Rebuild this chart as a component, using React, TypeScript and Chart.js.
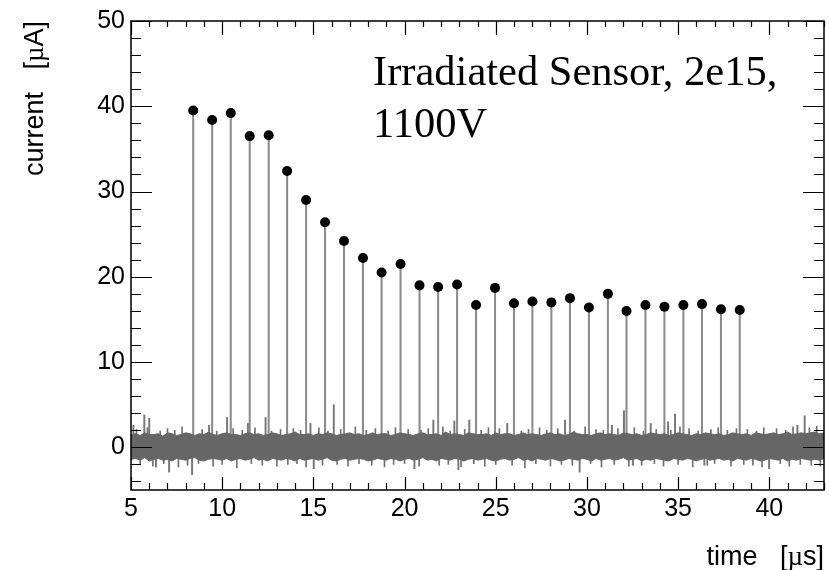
import React, { useEffect, useRef } from "react";
import { Chart, registerables } from "chart.js";
Chart.register(...registerables);

// Pulse stems (time in µs, peak current in µA)
const pulseTimes = [8.41, 9.45, 10.47, 11.51, 12.55, 13.56, 14.6, 15.64, 16.68, 17.72, 18.74, 19.78, 20.82, 21.84, 22.88, 23.92, 24.96, 26.0, 27.01, 28.05, 29.07, 30.11, 31.15, 32.17, 33.21, 34.25, 35.29, 36.31, 37.35, 38.38];
const pulsePeaks = [39.5, 38.4, 39.2, 36.5, 36.6, 32.4, 29.0, 26.4, 24.2, 22.2, 20.5, 21.5, 19.0, 18.8, 19.1, 16.7, 18.7, 16.9, 17.1, 17.0, 17.5, 16.4, 18.0, 16.0, 16.7, 16.5, 16.7, 16.8, 16.2, 16.1];

// Isolated noise spikes standing out of the baseline band
const spikeTimes = [5.13, 5.73, 6.0, 6.37, 7.09, 8.35, 9.28, 10.27, 11.41, 12.38, 14.84, 15.02, 16.12, 20.54, 21.58, 22.73, 22.95, 23.55, 25.63, 28.8, 29.6, 31.37, 32.03, 32.52, 33.5, 34.45, 34.83, 36.44, 39.99, 41.54, 41.94];
const spikeValues = [2.6, 3.8, 3.4, -2.3, -2.9, -3.2, 2.6, 3.5, 2.8, 3.5, 2.8, -2.5, 5.0, -2.5, 3.2, 3.1, -2.6, 3.2, 2.8, 3.2, -2.9, 2.6, 4.3, -2.1, 2.8, 3.0, 3.9, -2.1, -2.5, 2.6, 3.7];

// Small hairs on the edges of the noise band
const hairUpTimes = [5.3, 5.9, 6.6, 7.0, 7.4, 7.8, 8.9, 9.7, 10.6, 11.1, 11.8, 12.7, 13.2, 13.9, 14.3, 15.3, 15.8, 16.5, 17.3, 17.9, 18.4, 19.1, 19.5, 20.2, 20.9, 21.3, 22.1, 22.5, 23.3, 24.2, 24.6, 25.2, 26.4, 26.8, 27.4, 27.8, 28.4, 29.3, 29.9, 30.5, 30.9, 31.7, 32.6, 33.1, 33.8, 34.6, 35.1, 35.6, 36.1, 36.8, 37.2, 37.7, 38.2, 38.8, 39.3, 39.7, 40.4, 40.9, 41.3, 42.2, 42.6];
const hairUpValues = [2.1, 2.3, 1.9, 2.2, 2.0, 2.4, 2.1, 1.9, 2.2, 2.0, 2.3, 1.9, 2.1, 2.2, 2.0, 2.3, 1.9, 2.1, 2.4, 2.0, 2.2, 1.9, 2.3, 2.1, 2.0, 2.2, 2.4, 1.9, 2.1, 2.0, 2.3, 2.2, 1.9, 2.1, 2.3, 2.0, 2.2, 1.9, 2.4, 2.1, 2.0, 2.2, 2.3, 1.9, 2.1, 2.0, 2.4, 2.2, 1.9, 2.1, 2.3, 2.0, 2.2, 2.1, 1.9, 2.3, 2.2, 2.0, 2.4, 2.3, 2.5];
const hairDownTimes = [5.5, 6.2, 6.8, 7.6, 8.1, 8.7, 9.5, 10.0, 10.8, 11.6, 12.2, 13.0, 13.6, 14.1, 14.6, 15.5, 16.3, 16.9, 17.5, 18.2, 18.9, 19.4, 20.0, 20.8, 21.9, 22.4, 23.1, 23.8, 24.4, 25.0, 25.9, 26.6, 27.2, 28.0, 28.6, 29.2, 30.2, 30.8, 31.5, 32.3, 33.0, 33.7, 34.2, 35.0, 35.8, 36.6, 37.0, 37.9, 38.6, 39.1, 39.6, 40.6, 41.1, 41.7, 42.3, 42.8];
const hairDownValues = [-2.0, -2.2, -1.9, -2.3, -2.1, -1.9, -2.2, -2.0, -2.4, -1.9, -2.1, -2.2, -2.0, -1.9, -2.3, -2.1, -2.0, -2.2, -1.9, -2.1, -2.3, -2.0, -1.9, -2.2, -2.1, -2.0, -2.3, -1.9, -2.2, -2.0, -2.1, -2.4, -1.9, -2.2, -2.0, -2.1, -1.9, -2.3, -2.0, -2.2, -2.1, -1.9, -2.2, -2.0, -2.3, -2.1, -1.9, -2.2, -2.0, -2.1, -2.3, -1.9, -2.2, -2.0, -2.1, -2.2];

// Baseline noise band envelope, sampled from 5 µs every 0.25 µs
const noiseStart = 5;
const noiseStep = 0.25;
const noiseUpper = [
  1.5, 1.6, 1.4, 1.7, 1.5, 1.5, 1.6, 1.3, 1.7, 1.6,
  1.4, 1.5, 1.7, 1.6, 1.4, 1.6, 1.5, 1.8, 1.5, 1.4,
  1.6, 1.7, 1.5, 1.5, 1.4, 1.6, 1.7, 1.5, 1.6, 1.4,
  1.5, 1.7, 1.6, 1.4, 1.5, 1.6, 1.8, 1.5, 1.5, 1.6,
  1.4, 1.6, 1.5, 1.7, 1.6, 1.4, 1.5, 1.6, 1.7, 1.5,
  1.6, 1.4, 1.5, 1.7, 1.5, 1.6, 1.6, 1.4, 1.5, 1.7,
  1.6, 1.5, 1.4, 1.6, 1.7, 1.5, 1.5, 1.6, 1.4, 1.8,
  1.5, 1.6, 1.5, 1.4, 1.7, 1.6, 1.5, 1.5, 1.6, 1.4,
  1.7, 1.5, 1.6, 1.6, 1.4, 1.5, 1.7, 1.5, 1.6, 1.5,
  1.4, 1.6, 1.7, 1.5, 1.6, 1.4, 1.5, 1.8, 1.6, 1.5,
  1.5, 1.4, 1.6, 1.7, 1.5, 1.6, 1.5, 1.4, 1.7, 1.6,
  1.5, 1.6, 1.4, 1.5, 1.7, 1.6, 1.5, 1.6, 1.4, 1.5,
  1.7, 1.6, 1.5, 1.4, 1.6, 1.5, 1.7, 1.6, 1.5, 1.6,
  1.4, 1.5, 1.7, 1.6, 1.5, 1.6, 1.4, 1.7, 1.6, 1.5,
  1.6, 1.7, 1.5, 1.6, 1.8, 1.5, 1.6, 1.7, 1.6, 1.7,
  1.8, 1.6, 1.7,
];
const noiseLower = [
  -1.4, -1.3, -1.5, -1.2, -1.6, -1.4, -1.3, -1.5, -1.4, -1.6,
  -1.3, -1.4, -1.5, -1.3, -1.2, -1.5, -1.6, -1.4, -1.3, -1.4,
  -1.5, -1.3, -1.6, -1.4, -1.3, -1.5, -1.4, -1.2, -1.5, -1.4,
  -1.6, -1.3, -1.4, -1.5, -1.3, -1.4, -1.6, -1.3, -1.5, -1.4,
  -1.3, -1.5, -1.4, -1.2, -1.5, -1.6, -1.4, -1.3, -1.5, -1.4,
  -1.3, -1.4, -1.6, -1.5, -1.3, -1.4, -1.5, -1.3, -1.4, -1.6,
  -1.4, -1.3, -1.5, -1.4, -1.2, -1.5, -1.4, -1.6, -1.3, -1.4,
  -1.5, -1.3, -1.4, -1.6, -1.4, -1.3, -1.5, -1.4, -1.3, -1.5,
  -1.6, -1.4, -1.3, -1.5, -1.4, -1.2, -1.5, -1.4, -1.6, -1.3,
  -1.4, -1.5, -1.3, -1.4, -1.6, -1.5, -1.3, -1.4, -1.5, -1.3,
  -1.4, -1.6, -1.3, -1.5, -1.4, -1.3, -1.5, -1.4, -1.2, -1.5,
  -1.4, -1.3, -1.6, -1.4, -1.5, -1.3, -1.4, -1.5, -1.6, -1.3,
  -1.4, -1.5, -1.3, -1.4, -1.6, -1.4, -1.3, -1.5, -1.4, -1.3,
  -1.5, -1.4, -1.6, -1.3, -1.4, -1.5, -1.3, -1.4, -1.6, -1.5,
  -1.3, -1.4, -1.5, -1.3, -1.6, -1.4, -1.5, -1.3, -1.4, -1.5,
  -1.4, -1.5, -1.3,
];

const xMin = 5;
const xMax = 43;
const yMin = -5;
const yMax = 50;
const xMajorStep = 5;
const xMinorStep = 1;
const yMajorStep = 10;
const yMinorStep = 2;

const annotationLines = ["Irradiated Sensor, 2e15,", "1100V"];
const xTitle = ["time   [", "\u00b5", "s]"];
const yTitle = ["current   [", "\u00b5", "A]"];

const SANS = '"Liberation Sans", Arial, sans-serif';
const SERIF = '"Liberation Serif", "Times New Roman", serif';

const rootFramePlugin = {
  id: "rootFrame",
  afterDraw(chart: any) {
    const ctx = chart.ctx;
    const { left, right, top, bottom } = chart.chartArea;
    const xs = chart.scales.x;
    const ys = chart.scales.y;
    ctx.save();
    ctx.strokeStyle = "#000";
    ctx.lineWidth = 1.2;
    ctx.beginPath();
    for (let v = xMin; v <= xMax + 1e-9; v += xMinorStep) {
      const px = Math.round(xs.getPixelForValue(v)) + 0.5;
      const major = Math.abs(v / xMajorStep - Math.round(v / xMajorStep)) < 1e-6;
      ctx.moveTo(px, bottom);
      ctx.lineTo(px, bottom - (major ? 13 : 7));
      ctx.moveTo(px, top);
      ctx.lineTo(px, top + (major ? 14 : 6));
    }
    for (let v = -4; v <= yMax + 1e-9; v += yMinorStep) {
      const py = Math.round(ys.getPixelForValue(v)) + 0.5;
      const major = Math.abs(v / yMajorStep - Math.round(v / yMajorStep)) < 1e-6;
      const len = major ? 21 : 10;
      ctx.moveTo(left, py);
      ctx.lineTo(left + len, py);
      ctx.moveTo(right, py);
      ctx.lineTo(right - len, py);
    }
    ctx.stroke();
    ctx.lineWidth = 1.5;
    ctx.strokeRect(left, top, right - left, bottom - top);

    ctx.fillStyle = "#000";
    ctx.font = `42.5px ${SERIF}`;
    ctx.textAlign = "left";
    ctx.textBaseline = "alphabetic";
    ctx.fillText(annotationLines[0], 373, 85);
    ctx.fillText(annotationLines[1], 373, 137);

    const measure = (parts: string[], fonts: string[]) => {
      let w = 0;
      const widths = parts.map((p, i) => {
        ctx.font = fonts[i];
        const m = ctx.measureText(p).width;
        w += m;
        return m;
      });
      return { w, widths };
    };
    const tFonts = [`27px ${SANS}`, `27px ${SERIF}`, `27px ${SANS}`];
    const xm = measure(xTitle, tFonts);
    let cx = right - xm.w;
    xTitle.forEach((p, i) => {
      ctx.font = tFonts[i];
      ctx.fillText(p, cx, 565);
      cx += xm.widths[i];
    });
    const ym = measure(yTitle, tFonts);
    ctx.save();
    ctx.translate(43, top);
    ctx.rotate(-Math.PI / 2);
    let cy = -ym.w;
    yTitle.forEach((p, i) => {
      ctx.font = tFonts[i];
      ctx.fillText(p, cy, 0);
      cy += ym.widths[i];
    });
    ctx.restore();
    ctx.restore();
  },
};

export default function App() {
  const ref = useRef<HTMLCanvasElement>(null);
  useEffect(() => {
    if (!ref.current) return;
    const bandUpper = noiseUpper.map((y, i) => ({ x: noiseStart + i * noiseStep, y }));
    const bandLower = noiseLower.map((y, i) => ({ x: noiseStart + i * noiseStep, y }));
    const hairs = [
      ...hairUpTimes.map((x, i) => ({ x, y: hairUpValues[i] })),
      ...hairDownTimes.map((x, i) => ({ x, y: hairDownValues[i] })),
    ];
    const chart = new Chart(ref.current, {
      type: "scatter",
      data: {
        datasets: [
          {
            type: "scatter",
            label: "peaks",
            data: pulseTimes.map((x, i) => ({ x, y: pulsePeaks[i] })),
            backgroundColor: "#000",
            borderColor: "#000",
            pointRadius: 5,
            pointBorderWidth: 0,
            order: 0,
          } as any,
          {
            type: "line",
            label: "noiseUpper",
            data: bandUpper,
            borderColor: "#666666",
            backgroundColor: "#666666",
            borderWidth: 1,
            pointRadius: 0,
            tension: 0,
            fill: "+1",
            order: 1,
          } as any,
          {
            type: "line",
            label: "noiseLower",
            data: bandLower,
            borderColor: "#666666",
            borderWidth: 1,
            pointRadius: 0,
            tension: 0,
            fill: false,
            order: 1,
          } as any,
          {
            type: "bar",
            label: "hairs",
            data: hairs,
            backgroundColor: "#707070",
            barThickness: 1,
            grouped: false,
            order: 2,
          } as any,
          {
            type: "bar",
            label: "spikes",
            data: spikeTimes.map((x, i) => ({ x, y: spikeValues[i] })),
            backgroundColor: "#777777",
            barThickness: 1.3,
            grouped: false,
            order: 3,
          } as any,
          {
            type: "bar",
            label: "stems",
            data: pulseTimes.map((x, i) => ({ x, y: pulsePeaks[i] })),
            backgroundColor: "#8c8c8c",
            barThickness: 1.4,
            grouped: false,
            order: 4,
          } as any,
        ],
      },
      options: {
        animation: false,
        responsive: false,
        maintainAspectRatio: false,
        layout: { padding: { top: 20, right: 3, left: 0, bottom: 0 } },
        plugins: { legend: { display: false }, tooltip: { enabled: false } },
        scales: {
          x: {
            type: "linear",
            min: xMin,
            max: xMax,
            offset: false,
            grid: { display: false, drawTicks: false },
            border: { display: false },
            ticks: {
              stepSize: xMajorStep,
              includeBounds: false,
              maxRotation: 0,
              autoSkip: false,
              padding: 4,
              color: "#000",
              font: { family: SANS, size: 25 },
            },
            afterFit: (s: any) => {
              s.height = 80;
            },
          },
          y: {
            type: "linear",
            min: yMin,
            max: yMax,
            grid: { display: false, drawTicks: false },
            border: { display: false },
            ticks: {
              stepSize: yMajorStep,
              includeBounds: false,
              padding: 6,
              color: "#000",
              font: { family: SANS, size: 25 },
            },
            afterFit: (s: any) => {
              s.width = 131;
            },
          },
        },
      },
      plugins: [rootFramePlugin],
    } as any);
    return () => chart.destroy();
  }, []);
  return (
    <div style={{ position: "absolute", left: 0, top: 0, width: 829, height: 570, background: "#fff" }}>
      <canvas ref={ref} width={829} height={570} style={{ display: "block" }} />
    </div>
  );
}
